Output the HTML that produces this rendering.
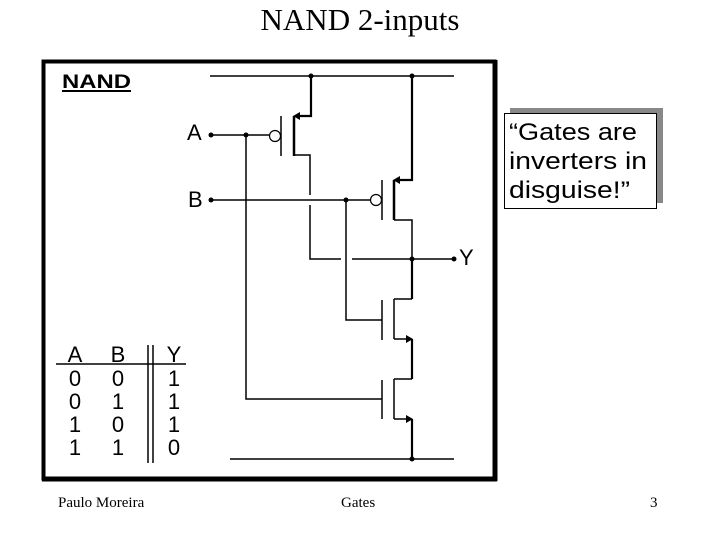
<!DOCTYPE html>
<html><head><style>
body{margin:0;width:720px;height:540px;background:#fff;overflow:hidden;position:relative;font-family:"Liberation Sans",sans-serif}
.t{position:absolute;font-family:"Liberation Serif",serif;white-space:nowrap}
</style></head><body>
<div class="t" style="left:0;width:720px;text-align:center;top:2px;font-size:31px">NAND 2-inputs</div>
<div class="t" style="left:58px;top:495px;font-size:15px">Paulo Moreira</div>
<div class="t" style="left:341px;top:495px;font-size:15px">Gates</div>
<div class="t" style="left:650px;top:495px;font-size:15px">3</div>
<svg width="720" height="540" style="position:absolute;left:0;top:0" font-family="Liberation Sans, sans-serif">
<rect x="43.5" y="61.5" width="451" height="417" fill="none" stroke="#000" stroke-width="4"/>
<line x1="495" y1="60" x2="495" y2="481" stroke="#000" stroke-width="5"/>
<line x1="42" y1="479" x2="497" y2="479" stroke="#000" stroke-width="5"/>
<text x="62" y="88" font-size="19" font-weight="bold" textLength="69" lengthAdjust="spacingAndGlyphs">NAND</text>
<line x1="62" y1="91" x2="131" y2="91" stroke="#000" stroke-width="2"/>
<!-- callout -->
<rect x="510" y="108" width="153" height="95" fill="#888"/>
<rect x="504.5" y="113.5" width="152" height="95" fill="#fff" stroke="#000"/>
<g font-size="24">
<text x="509" y="140" textLength="128" lengthAdjust="spacingAndGlyphs">“Gates are</text>
<text x="509" y="169" textLength="138" lengthAdjust="spacingAndGlyphs">inverters in</text>
<text x="509" y="198" textLength="121" lengthAdjust="spacingAndGlyphs">disguise!”</text>
</g>
<g stroke="#000" stroke-width="1.5" fill="none">
<line x1="210" y1="76" x2="454" y2="76"/>
<line x1="230" y1="459" x2="454" y2="459"/>
<polyline points="311,76 311,116 295,116" stroke-width="2.2"/>
<line x1="294" y1="116" x2="294" y2="156" stroke-width="2.5"/>
<line x1="281" y1="116" x2="281" y2="156"/>
<circle cx="275" cy="136" r="5.5" stroke-width="1.2"/>
<line x1="211" y1="135" x2="269" y2="135"/>
<polyline points="294,155 310,155 310,195"/>
<polyline points="310,205 310,259 341,259"/>
<line x1="352" y1="259" x2="454" y2="259"/>
<polyline points="412,76 412,180 396,180" stroke-width="2.2"/>
<line x1="394" y1="180" x2="394" y2="220" stroke-width="2.5"/>
<line x1="382" y1="180" x2="382" y2="220"/>
<circle cx="376" cy="200" r="5.5" stroke-width="1.2"/>
<line x1="211" y1="200" x2="370" y2="200"/>
<polyline points="394,220 412,220 412,259"/>
<line x1="412" y1="259" x2="412" y2="299" stroke-width="2.2"/>
<line x1="412" y1="299" x2="394" y2="299"/>
<line x1="394" y1="299" x2="394" y2="339"/>
<line x1="382" y1="300" x2="382" y2="340"/>
<line x1="394" y1="339" x2="408" y2="339"/>
<line x1="412" y1="339" x2="412" y2="379" stroke-width="2.2"/>
<line x1="412" y1="379" x2="394" y2="379"/>
<line x1="394" y1="379" x2="394" y2="419"/>
<line x1="382" y1="380" x2="382" y2="419"/>
<line x1="394" y1="419" x2="408" y2="419"/>
<line x1="412" y1="419" x2="412" y2="459" stroke-width="2.2"/>
<polyline points="246,135 246,399 382,399"/>
<polyline points="346,200 346,320 382,320"/>
</g>
<g fill="#000">
<polygon points="293,116 300,112 300,120"/>
<polygon points="393,180 400,176 400,184"/>
<polygon points="413,339 406,335 406,343"/>
<polygon points="413,419 406,415 406,423"/>
<circle cx="311" cy="76" r="2.5"/><circle cx="412" cy="76" r="2.5"/>
<circle cx="211" cy="135" r="2.5"/><circle cx="246" cy="135" r="2.5"/>
<circle cx="211" cy="200" r="2.5"/><circle cx="346" cy="200" r="2.5"/>
<circle cx="412" cy="259" r="2.5"/><circle cx="454" cy="259" r="2.5"/>
<circle cx="412" cy="459" r="2.5"/>
</g>
<g font-size="22">
<text x="187" y="140">A</text>
<text x="188" y="207">B</text>
<text x="459" y="265">Y</text>
</g>
<g font-size="22" text-anchor="middle">
<text x="75" y="362">A</text><text x="118" y="362">B</text><text x="174" y="362">Y</text>
<text x="75" y="386">0</text><text x="118" y="386">0</text><text x="174" y="386">1</text>
<text x="75" y="409">0</text><text x="118" y="409">1</text><text x="174" y="409">1</text>
<text x="75" y="432">1</text><text x="118" y="432">0</text><text x="174" y="432">1</text>
<text x="75" y="455">1</text><text x="118" y="455">1</text><text x="174" y="455">0</text>
</g>
<g stroke="#000" stroke-width="1.5">
<line x1="56" y1="364" x2="186" y2="364"/>
<line x1="148" y1="345" x2="148" y2="463"/>
<line x1="153" y1="345" x2="153" y2="463"/>
</g>
</svg>
</body></html>
